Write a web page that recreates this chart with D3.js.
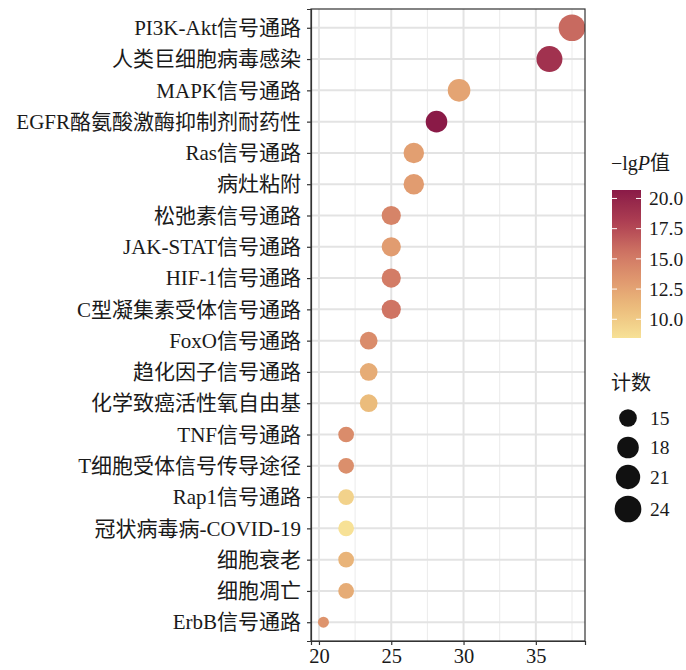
<!DOCTYPE html>
<html><head><meta charset="utf-8">
<script src="https://cdn.jsdelivr.net/npm/d3@7"></script>
<style>
body{margin:0;background:#fff;}
text{font-family:"Liberation Serif","Noto Sans CJK SC",serif;fill:#1a1a1a;}
</style></head>
<body><svg id="c" width="686" height="670"></svg>
<script>
const categories = ["PI3K-Akt信号通路","人类巨细胞病毒感染","MAPK信号通路","EGFR酪氨酸激酶抑制剂耐药性","Ras信号通路","病灶粘附","松弛素信号通路","JAK-STAT信号通路","HIF-1信号通路","C型凝集素受体信号通路","FoxO信号通路","趋化因子信号通路","化学致癌活性氧自由基","TNF信号通路","T细胞受体信号传导途径","Rap1信号通路","冠状病毒病-COVID-19","细胞衰老","细胞凋亡","ErbB信号通路"];
const xValues = [37.5,35.94,29.69,28.13,26.56,26.56,25.0,25.0,25.0,25.0,23.44,23.44,23.44,21.88,21.88,21.88,21.88,21.88,21.88,20.31];
const counts = [24,23,19,18,17,17,16,16,16,16,15,15,15,14,14,14,14,14,14,13];
const lgP = [16.0,19.0,12.5,20.7,12.8,13.0,14.5,13.0,15.0,15.5,14.0,12.0,11.0,14.0,13.8,9.5,8.45,11.5,12.0,13.5];
const xTicks = [20,25,30,35];
const colorTicks = [10.0,12.5,15.0,17.5,20.0];
const sizeTicks = [15,18,21,24];

const svg = d3.select("#c");
const L=311,R=585,T=9,B=641;
const x = d3.scaleLinear().domain([19.45,38.4]).range([L,R]);
const y = d3.scalePoint().domain(categories).range([T,B]).padding(0.6);
const cmin=8.45,cmax=20.7;
const color = d3.scaleLinear().domain([8.45,11,13,15.5,18,20.7])
  .range(["#F7E196","#EBBC7C","#E19C70","#CF7463","#AE3F53","#8A1A47"]).interpolate(d3.interpolateLab);
const cmn=d3.min(counts),cmx=d3.max(counts);
const rNorm = d3.scaleSqrt().domain([0,cmx-cmn]).range([0,1]);
const rOut = d3.scaleLinear().domain([0,1]).range([5.5,13.35]);
const rad = v=>rOut(rNorm(v-cmn));
const FF='"Liberation Serif","Noto Sans CJK SC",serif';

svg.append("defs").append("clipPath").attr("id","pc").append("rect").attr("x",L).attr("y",T).attr("width",R-L).attr("height",B-T);
svg.append("rect").attr("x",L).attr("y",T).attr("width",R-L).attr("height",B-T).attr("fill","#fff");
const g=svg.append("g");
const minor=[22.5,27.5,32.5,37.5];
g.selectAll(".mn").data(minor).join("line").attr("x1",d=>x(d)).attr("x2",d=>x(d)).attr("y1",T).attr("y2",B).attr("stroke","#EBEBEB").attr("stroke-width",1);
g.selectAll(".mj").data(xTicks).join("line").attr("x1",d=>x(d)).attr("x2",d=>x(d)).attr("y1",T).attr("y2",B).attr("stroke","#E3E3E3").attr("stroke-width",2);
g.selectAll(".hy").data(categories).join("line").attr("x1",L).attr("x2",R).attr("y1",d=>y(d)).attr("y2",d=>y(d)).attr("stroke","#E3E3E3").attr("stroke-width",2);

const pg=svg.append("g").attr("clip-path","url(#pc)");
pg.selectAll("circle").data(categories).join("circle")
 .attr("cx",(d,i)=>x(xValues[i])).attr("cy",d=>y(d)).attr("r",(d,i)=>rad(counts[i]))
 .attr("fill",(d,i)=>color(lgP[i]));

svg.append("rect").attr("x",L).attr("y",T).attr("width",R-L).attr("height",B-T).attr("fill","none").attr("stroke","#333").attr("stroke-width",1.2);

const ya=svg.append("g").attr("transform",`translate(${L},0)`).call(d3.axisLeft(y).tickSize(4).tickPadding(6));
ya.select(".domain").attr("stroke","#333").attr("stroke-width",1.2);
ya.selectAll(".tick line").attr("stroke","#333").attr("stroke-width",1.2);
ya.selectAll(".tick text").attr("font-size",21).attr("font-family",FF).attr("fill","#1a1a1a");
const xa=svg.append("g").attr("transform",`translate(0,${B})`).call(d3.axisBottom(x).tickValues(xTicks).tickSize(4).tickPadding(3));
xa.select(".domain").attr("stroke","#333").attr("stroke-width",1.2);
xa.selectAll(".tick line").attr("stroke","#333").attr("stroke-width",1.2);
xa.selectAll(".tick text").attr("font-size",20.5).attr("font-family",'"Liberation Serif",serif').attr("fill","#1a1a1a");

const lt=svg.append("text").attr("x",611).attr("y",170).attr("font-size",20);
lt.append("tspan").text("−lg");
lt.append("tspan").attr("font-style","italic").text("P");
lt.append("tspan").text("值");
const cb={x:612,y:190,w:29,h:148};
const cy=d3.scaleLinear().domain([cmin,cmax]).range([cb.y+cb.h,cb.y]);
const grad=svg.select("defs").append("linearGradient").attr("id","cg").attr("x1",0).attr("y1",1).attr("x2",0).attr("y2",0);
d3.range(0,1.0001,0.05).forEach(t=>{grad.append("stop").attr("offset",t).attr("stop-color",color(cmin+t*(cmax-cmin)));});
svg.append("rect").attr("x",cb.x).attr("y",cb.y).attr("width",cb.w).attr("height",cb.h).attr("fill","url(#cg)");
colorTicks.forEach(v=>{
  svg.append("line").attr("x1",cb.x).attr("x2",cb.x+5).attr("y1",cy(v)).attr("y2",cy(v)).attr("stroke","#fff").attr("stroke-width",1);
  svg.append("line").attr("x1",cb.x+cb.w-5).attr("x2",cb.x+cb.w).attr("y1",cy(v)).attr("y2",cy(v)).attr("stroke","#fff").attr("stroke-width",1);
  svg.append("text").attr("x",cb.x+cb.w+8).attr("y",cy(v)).attr("dy","0.35em").attr("font-size",19.5).text(v.toFixed(1));
});

svg.append("text").attr("x",611).attr("y",390).attr("font-size",20).text("计数");
const sy=[418,447.5,477,509];
sizeTicks.forEach((v,i)=>{
  svg.append("circle").attr("cx",628).attr("cy",sy[i]).attr("r",rad(v)).attr("fill","#111");
  svg.append("text").attr("x",650).attr("y",sy[i]).attr("dy","0.35em").attr("font-size",19.5).text(v);
});
</script></body></html>
